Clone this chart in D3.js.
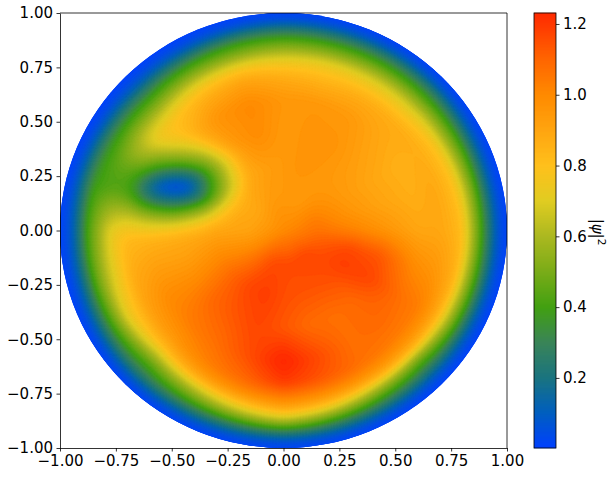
<!DOCTYPE html>
<html><head><meta charset="utf-8">
<script src="https://d3js.org/d3.v7.min.js"></script>
<style>html,body{margin:0;background:#fff}svg{display:block}text{font-family:"DejaVu Sans";fill:#000}</style>
</head><body><svg id="c" width="614" height="477"></svg>
<script>
const xTicks=[-1,-.75,-.5,-.25,0,.25,.5,.75,1];
const yTicks=xTicks;
const barTicks=[.2,.4,.6,.8,1,1.2];
const barDomain=[.002,1.231];
const colorStops=[.002,.1,.2,.3,.4,.5,.6,.7,.8,.9,1,1.1,1.231];
const colorValues=["#0040ff","#005ec0","#1a7480","#3a8458","#42a012","#7aac18","#abb820","#e0cc22","#ffc01c","#ffa510","#ff8a00","#ff6600","#ff2a00"];
const angles=d3.range(0,360,15);
const radii=[0,.15,.3,.45,.6,.7,.76,.8,.84,.88,.92,.96,1];
const ring000=[1,1,1,1,1,1,1,1,1,1,1,1,1,1,1,1,1,1,1,1,1,1,1,1];
const ring015=[1.07,1.05,1.02,.98,.95,.95,.95,.95,.93,.9,.89,.9,.91,.95,1,1.06,1.13,1.17,1.17,1.17,1.18,1.18,1.14,1.11];
const ring030=[1.03,.97,.95,.95,.96,.97,.95,.93,.89,.87,.9,.9,.9,.97,1.04,1.12,1.18,1.2,1.16,1.15,1.15,1.16,1.2,1.17];
const ring045=[.97,.91,.9,.93,.97,.97,.95,1,.95,.88,.85,.85,.87,.92,1,1.1,1.14,1.18,1.14,1.09,1.08,1.1,1.18,1.14];
const ring060=[.9,.87,.86,.9,.95,.96,.96,1.01,.97,.83,.78,.76,.83,.92,1,1.04,1.08,1.16,1.26,1.17,1.08,1.1,1.08,1];
const ring070=[.9,.9,.88,.88,.88,.86,.88,.92,.87,.8,.74,.76,.82,.88,.92,.95,1.03,1.1,1.2,1.14,1.08,1.05,1.04,.96];
const ring076=[.86,.84,.82,.78,.78,.78,.78,.8,.76,.68,.64,.66,.76,.76,.8,.82,.92,1,1.05,1.02,.98,.95,.94,.9];
const ring080=[.82,.78,.74,.7,.7,.7,.68,.66,.62,.55,.54,.56,.66,.68,.74,.66,.76,.86,.95,.9,.84,.8,.82,.84];
const ring084=[.62,.6,.56,.56,.56,.54,.54,.5,.48,.44,.44,.46,.52,.55,.56,.5,.58,.7,.8,.72,.6,.52,.62,.62];
const ring088=[.44,.43,.43,.42,.42,.42,.42,.4,.36,.32,.34,.38,.42,.42,.42,.38,.44,.5,.58,.5,.43,.38,.43,.44];
const ring092=[.22,.22,.24,.28,.28,.26,.26,.22,.18,.16,.18,.2,.18,.2,.24,.26,.26,.28,.32,.28,.24,.21,.22,.22];
const ring096=[.06,.06,.07,.08,.08,.08,.07,.06,.05,.05,.05,.06,.06,.06,.07,.08,.08,.08,.08,.08,.07,.06,.06,.06];
const ring100=[.01,.01,.01,.01,.01,.01,.01,.01,.01,.01,.01,.01,.01,.01,.01,.01,.01,.01,.01,.01,.01,.01,.01,.01];
const rings=[ring000,ring015,ring030,ring045,ring060,ring070,ring076,ring080,ring084,ring088,ring092,ring096,ring100];
// dip in the density: share of the surrounding level that remains
const dipX=[-.85,-.8,-.75,-.7,-.65,-.6,-.55,-.5,-.45,-.4,-.35,-.3,-.25,-.2,-.15];
const dipY=[.45,.4,.35,.3,.25,.2,.15,.1,.05,0,-.05];
const dip045=[1,1,1,1,1,1,1,1,1,1,1,1,1,1,1];
const dip040=[1,1,.98,.95,.95,.95,.94,.92,.9,.9,.92,.95,.98,1,1];
const dip035=[1,.98,.92,.88,.85,.8,.76,.74,.72,.72,.74,.8,.88,.96,1];
const dip030=[1,.95,.85,.75,.68,.62,.56,.52,.5,.52,.56,.66,.78,.92,1];
const dip025=[1,.9,.75,.64,.52,.4,.28,.22,.22,.26,.4,.56,.74,.88,1];
const dip020=[1,.85,.7,.58,.42,.22,.1,.05,.05,.14,.34,.52,.7,.88,1];
const dip015=[1,.88,.74,.62,.48,.34,.24,.2,.2,.26,.4,.58,.76,.92,1];
const dip010=[1,.92,.82,.74,.64,.56,.5,.46,.48,.54,.62,.76,.88,.96,1];
const dip005=[1,.96,.9,.86,.82,.78,.74,.72,.74,.78,.84,.9,.96,1,1];
const dip000=[1,1,.97,.95,.93,.92,.92,.92,.93,.95,.97,1,1,1,1];
const dipN05=[1,1,1,1,1,1,1,1,1,1,1,1,1,1,1];
const dipRows=[dip045,dip040,dip035,dip030,dip025,dip020,dip015,dip010,dip005,dip000,dipN05];

const svg=d3.select("#c");
const L=60,R=507,T=13,B=448,BL=534,BR=556;
const x=d3.scaleLinear().domain([-1,1]).range([L,R]);
const y=d3.scaleLinear().domain([-1,1]).range([B,T]);
const color=d3.scaleLinear().domain(colorStops).range(colorValues).interpolate(d3.interpolateRgb).clamp(true);

function seg(arr,v){let i=d3.bisectRight(arr,v)-1;i=Math.max(0,Math.min(arr.length-2,i));return [i,(v-arr[i])/(arr[i+1]-arr[i])];}
function polar(px,py){
  const r=Math.min(1,Math.hypot(px,py));
  let a=(Math.atan2(py,px)*180/Math.PI+360)%360;
  const j=Math.floor(a/15)%24,ta=(a-j*15)/15,j2=(j+1)%24;
  const [i,tr]=seg(radii,r);
  const v0=rings[i][j]*(1-ta)+rings[i][j2]*ta, v1=rings[i+1][j]*(1-ta)+rings[i+1][j2]*ta;
  return v0*(1-tr)+v1*tr;
}
function dip(px,py){
  if(px<dipX[0]||px>dipX[dipX.length-1]||py>dipY[0]||py<dipY[dipY.length-1])return 1;
  const [i,t]=seg(dipX,px);
  const yy=dipY.map(d=>-d);
  const [k,u]=seg(yy,-py);
  const a=dipRows[k][i]*(1-t)+dipRows[k][i+1]*t,b=dipRows[k+1][i]*(1-t)+dipRows[k+1][i+1]*t;
  return a*(1-u)+b*u;
}
const N=300;
const raster=new Float64Array(N*N);
for(let j=0;j<N;j++)for(let i=0;i<N;i++){
  const px=-1+2*(i+.5)/N,py=1-2*(j+.5)/N;
  raster[j*N+i]=polar(px,py)*dip(px,py);
}
d3.blur2({data:raster,width:N,height:N},2.5);
const thresholds=d3.range(0,1.24,.0125);
const contours=d3.contours().size([N,N]).smooth(true).thresholds(thresholds)(Array.from(raster));
const proj=d3.geoTransform({point(a,b){this.stream.point(x(-1+2*a/N),y(1-2*b/N));}});
const path=d3.geoPath(proj);
svg.append("defs").append("clipPath").attr("id","disk").append("ellipse")
  .attr("cx",x(0)).attr("cy",y(0)).attr("rx",x(1)-x(0)).attr("ry",y(0)-y(1));
const heat=svg.append("g").attr("clip-path","url(#disk)");
heat.append("ellipse").attr("cx",x(0)).attr("cy",y(0)).attr("rx",x(1)-x(0)).attr("ry",y(0)-y(1)).attr("fill",color(.01));
heat.selectAll("path").data(contours).join("path").attr("d",path)
  .attr("fill",d=>color(d.value)).attr("stroke",d=>color(d.value)).attr("stroke-width",.4);

const fmt=d=>d3.format(".2f")(d).replace("-","\u2212");
function style(g){g.selectAll("text").style("font-size","15px").style("font-family","DejaVu Sans").attr("fill","#000");
  g.selectAll("line").attr("stroke","#000").attr("stroke-width",.8);g.select(".domain").attr("stroke","#000").attr("stroke-width",.8);}
const gx=svg.append("g").attr("transform",`translate(0,${B})`).call(d3.axisBottom(x).tickValues(xTicks).tickFormat(fmt).tickSize(3.5).tickPadding(3.5).tickSizeOuter(0));style(gx);
const gy=svg.append("g").attr("transform",`translate(${L},0)`).call(d3.axisLeft(y).tickValues(yTicks).tickFormat(fmt).tickSize(3.5).tickPadding(3.5).tickSizeOuter(0));style(gy);
svg.append("line").attr("x1",L).attr("x2",R).attr("y1",T).attr("y2",T).attr("stroke","#000").attr("stroke-width",.8);
svg.append("line").attr("x1",R).attr("x2",R).attr("y1",T).attr("y2",B).attr("stroke","#000").attr("stroke-width",.8);

const by=d3.scaleLinear().domain(barDomain).range([B,T]);
const barLevels=d3.range(B-T).map(i=>by.invert(B-i-.5));
svg.append("g").selectAll("rect").data(barLevels).join("rect")
  .attr("x",BL).attr("width",BR-BL).attr("y",d=>by(d)-.75).attr("height",1.5).attr("fill",d=>color(d));
svg.append("rect").attr("x",BL).attr("y",T).attr("width",BR-BL).attr("height",B-T).attr("fill","none").attr("stroke","#000").attr("stroke-width",.8);
const gb=svg.append("g").attr("transform",`translate(${BR},0)`).call(d3.axisRight(by).tickValues(barTicks).tickFormat(d3.format(".1f")).tickSize(3.5).tickPadding(3.5).tickSizeOuter(0));style(gb);
gb.select(".domain").remove();
const lab=svg.append("text").attr("transform","translate(592,232) rotate(90)").attr("text-anchor","middle").style("font-size","15px").style("font-family","DejaVu Sans");
lab.append("tspan").text("|");
lab.append("tspan").style("font-style","italic").text("\u03c8");
lab.append("tspan").text("|");
lab.append("tspan").attr("dy",-6).style("font-size","10.5px").text("2");
</script></body></html>
